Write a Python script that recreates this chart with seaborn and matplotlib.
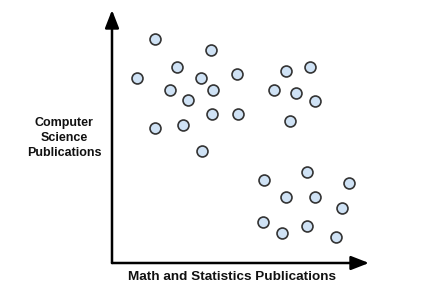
import matplotlib
matplotlib.use("Agg")
import matplotlib.pyplot as plt
import seaborn as sns
import pandas as pd

# point positions (arbitrary units)
x_vals = [43, 99, 65, 25, 89, 125, 58, 101, 76, 100, 126, 43, 71, 90,
          174, 198, 162, 184, 203, 178,
          152, 195, 237, 174, 203, 230, 151, 170, 195, 224]
y_vals = [224, 213, 196, 185, 185, 189, 173, 173, 163, 149, 149, 135, 138, 112,
          192, 196, 173, 170, 162, 142,
          83, 91, 80, 66, 66, 55, 41, 30, 37, 26]
cluster = ["A"] * 14 + ["B"] * 6 + ["C"] * 10

x_label = "Math and Statistics Publications"
y_label = "Computer\nScience\nPublications"

df = pd.DataFrame({"x": x_vals, "y": y_vals, "cluster": cluster})

sns.set_theme(style="white")
plt.rcParams["font.family"] = ["Liberation Sans", "DejaVu Sans"]

W, H = 427, 295
fig = plt.figure(figsize=(W / 100, H / 100), dpi=100)
ax = fig.add_axes([112 / W, (H - 263) / H, 257 / W, 253 / H])

sns.scatterplot(data=df, x="x", y="y", ax=ax, s=62, color="#cfe2f5",
                edgecolor="#333333", linewidth=1.2, legend=False, zorder=3,
                clip_on=False)

ax.set_xlim(0, 257)
ax.set_ylim(0, 253)
for sp in ax.spines.values():
    sp.set_visible(False)
ax.set_xticks([])
ax.set_yticks([])
ax.set_xlabel("")
ax.set_ylabel("")

arrow = dict(arrowstyle="-|>,head_length=0.9,head_width=0.35", color="black",
             lw=1.8, shrinkA=0, shrinkB=0)
ax.annotate("", xy=(0, 1), xytext=(0, 0), xycoords="axes fraction",
            arrowprops=arrow, annotation_clip=False)
ax.annotate("", xy=(1, 0), xytext=(0, 0), xycoords="axes fraction",
            arrowprops=arrow, annotation_clip=False)

fig.text(232 / W, 1 - 277 / H, x_label, ha="center", va="center",
         fontsize=9.7, fontweight="bold", color="#111111")
fig.text(64 / W, 1 - 138 / H, y_label, ha="center", va="center",
         fontsize=9, fontweight="bold", color="#111111", linespacing=1.35)

fig.savefig("out.png", dpi=100, facecolor="white")
